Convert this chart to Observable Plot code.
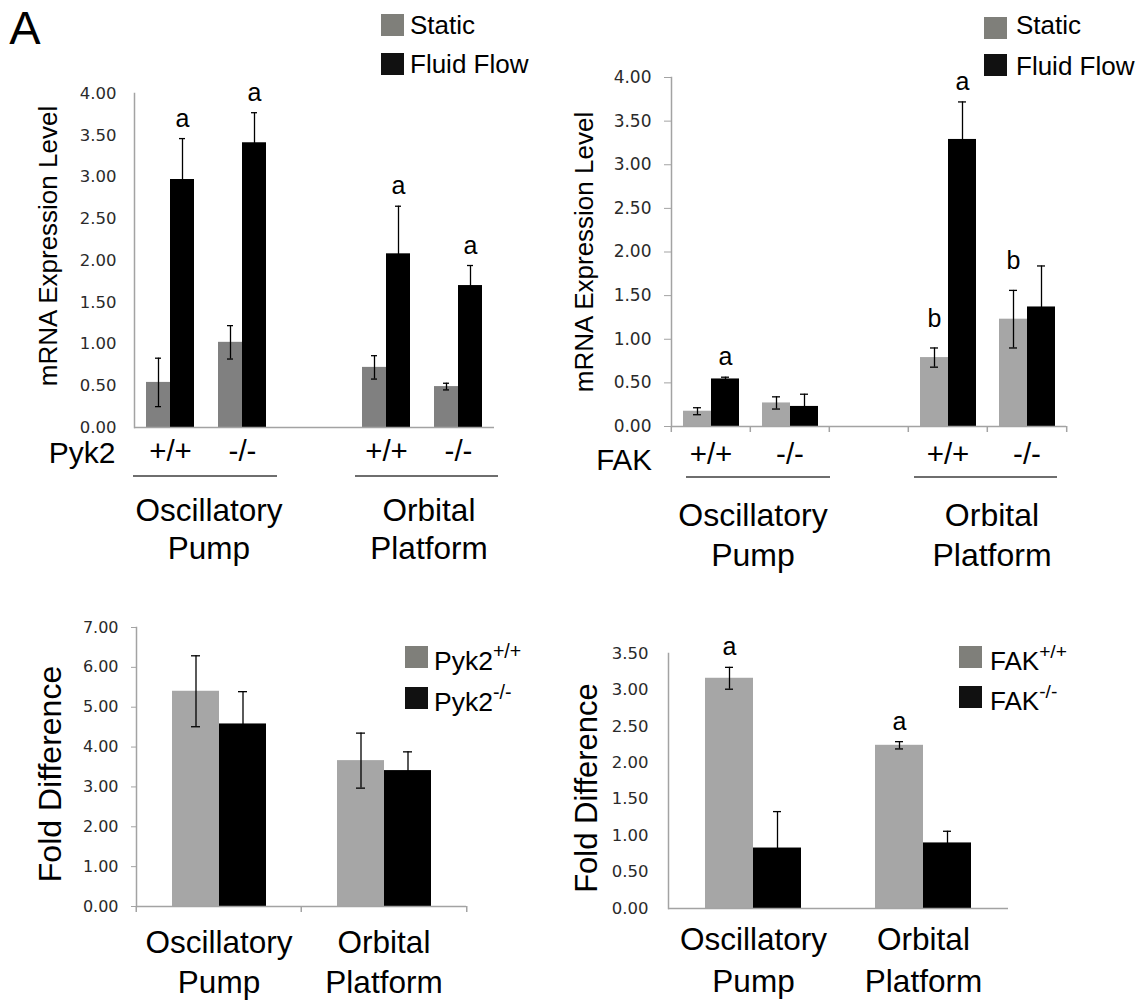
<!DOCTYPE html>
<html><head><meta charset="utf-8">
<script src="https://cdn.jsdelivr.net/npm/d3@7"></script>
<script src="https://cdn.jsdelivr.net/npm/@observablehq/plot@0.6"></script>
<style>
body{margin:0;background:#fff;}
#fig{position:relative;width:1140px;height:1001px;font-family:"Liberation Sans",Arial,sans-serif;color:#000;overflow:hidden;background:#fff;}
.plot{position:absolute;}
.ytitle{position:absolute;transform:translate(-50%,-50%) rotate(-90deg);white-space:nowrap;line-height:1;}
.center{position:absolute;transform:translate(-50%,-50%);white-space:nowrap;text-align:center;}
.left{position:absolute;transform:translate(0,-50%);white-space:nowrap;line-height:1;}
.sw{position:absolute;width:23px;height:22px;}
.bracket{position:absolute;height:2px;background:#6e6e6e;}
sup{font-size:0.74em;position:relative;top:-0.12em;}
</style></head><body><div id="fig"></div><script>
// ---------- data ----------
const panelLetter = "A";
const groupLabels = ["Oscillatory Pump", "Orbital Platform"];
const conditions = ["Static", "Fluid Flow"];
const genotypeLabels = ["+/+", "-/-"];
const mrnaTitle = "mRNA Expression Level";
const foldTitle = "Fold Difference";

// Pyk2 mRNA (order: Osc +/+, Osc -/-, Orb +/+, Orb -/-)
const pyk2Static   = [0.54, 1.02, 0.72, 0.49];
const pyk2StaticSE = [0.29, 0.20, 0.14, 0.04];
const pyk2Flow     = [2.97, 3.41, 2.08, 1.70];
const pyk2FlowSE   = [0.49, 0.36, 0.57, 0.24];
const pyk2StaticSig = ["", "", "", ""];
const pyk2FlowSig   = ["a", "a", "a", "a"];

// FAK mRNA
const fakStatic   = [0.175, 0.27, 0.79, 1.23];
const fakStaticSE = [0.04, 0.07, 0.11, 0.33];
const fakFlow     = [0.545, 0.23, 3.29, 1.37];
const fakFlowSE   = [0.02, 0.14, 0.43, 0.47];
const fakStaticSig = ["", "", "b", "b"];
const fakFlowSig   = ["a", "", "a", ""];

// Fold difference (order: Osc, Orb)
const foldGroupLabels = ["Oscillatory\nPump", "Orbital\nPlatform"];
const pyk2FoldWT   = [5.40, 3.66];
const pyk2FoldWTSE = [0.89, 0.69];
const pyk2FoldKO   = [4.58, 3.41];
const pyk2FoldKOSE = [0.81, 0.47];
const pyk2FoldWTSig = ["", ""];
const fakFoldWT   = [3.16, 2.24];
const fakFoldWTSE = [0.15, 0.05];
const fakFoldKO   = [0.83, 0.90];
const fakFoldKOSE = [0.50, 0.16];
const fakFoldWTSig = ["a", "a"];

const mrnaTicks = [0, 0.5, 1, 1.5, 2, 2.5, 3, 3.5, 4];
const pyk2FoldTicks = [0, 1, 2, 3, 4, 5, 6, 7];
const fakFoldTicks = [0, 0.5, 1, 1.5, 2, 2.5, 3, 3.5];

// ---------- build tables ----------
const spacer = " ";
const slotDomain = [
  groupLabels[0] + " " + genotypeLabels[0], groupLabels[0] + " " + genotypeLabels[1],
  spacer,
  groupLabels[1] + " " + genotypeLabels[0], groupLabels[1] + " " + genotypeLabels[1]
];
const slotLabel = k => k === spacer ? "" : k.split(" ").pop();

function mrnaRows(st, stSE, fl, flSE, stSig, flSig) {
  const rows = [];
  for (let i = 0; i < 4; i++) {
    const slot = groupLabels[Math.floor(i / 2)] + " " + genotypeLabels[i % 2];
    rows.push({slot, cond: conditions[0], value: st[i], se: stSE[i], sig: stSig[i]});
    rows.push({slot, cond: conditions[1], value: fl[i], se: flSE[i], sig: flSig[i]});
  }
  return rows;
}
function foldRows(wt, wtSE, ko, koSE, wtSig) {
  const rows = [];
  for (let i = 0; i < 2; i++) {
    rows.push({slot: foldGroupLabels[i], cond: genotypeLabels[0], value: wt[i], se: wtSE[i], sig: wtSig[i]});
    rows.push({slot: foldGroupLabels[i], cond: genotypeLabels[1], value: ko[i], se: koSE[i], sig: ""});
  }
  return rows;
}

const tickFont = "DejaVu Sans, Verdana, sans-serif";
const mainFont = "Liberation Sans, Arial, sans-serif";
const axisGray = "#a3a3a3";

function barPlot(rows, c) {
  const slots = c.fxDomain.map(s => ({slot: s}));
  const marks = [
    Plot.barY(rows, {fx: "slot", x: "cond", y: "value", fill: "cond"}),
    Plot.ruleX(rows, {fx: "slot", x: "cond", y1: d => d.value - d.se, y2: d => d.value + d.se, stroke: "#000", strokeWidth: 1.3}),
    Plot.tickY(rows, {fx: "slot", x: "cond", y: d => d.value + d.se, insetLeft: c.cap, insetRight: c.cap, stroke: "#000", strokeWidth: 1.3}),
    Plot.tickY(rows, {fx: "slot", x: "cond", y: d => d.value - d.se, insetLeft: c.cap, insetRight: c.cap, stroke: "#000", strokeWidth: 1.3}),
    // baseline drawn in every slot (also keeps the spacer slot non-empty)
    Plot.ruleY(slots, {fx: "slot", y: () => 0, stroke: axisGray, strokeWidth: 1.5}),
    Plot.frame({anchor: "left", facetAnchor: "left", stroke: axisGray, strokeWidth: 1.5}),
    Plot.axisY({ticks: c.ticks, tickFormat: d3.format(".2f"), tickSize: c.ytick, tickPadding: c.ygap - c.ytick,
      fontSize: c.tickFont, fontFamily: tickFont, fill: "#2a2a2a", stroke: axisGray, label: null}),
    Plot.axisFx({anchor: "bottom", tickSize: 0, tickPadding: c.fxPad, fontSize: c.fxFont, fontFamily: mainFont, fill: "#000",
      lineHeight: c.fxLine || 1.25, tickFormat: c.fxFormat, label: null}),
    Plot.text(rows.filter(d => d.sig === "a"), {fx: "slot", x: "cond", y: d => d.value + d.se, text: "sig",
      dy: -20, fontSize: 25, fontFamily: mainFont, lineAnchor: "middle"}),
    Plot.text(rows.filter(d => d.sig === "b"), {fx: "slot", x: "cond", y: d => d.value + d.se, text: "sig",
      dy: -29, fontSize: 25, fontFamily: mainFont, lineAnchor: "middle"})
  ];
  if (c.xTicks) {
    const half = c.slotW / 2;
    const dom = c.fxDomain;
    marks.push(Plot.axisFx({anchor: "bottom", tickSize: 6, tickFormat: () => "", dx: -half, stroke: axisGray, strokeWidth: 1.5, label: null}));
    marks.push(Plot.axisFx({anchor: "bottom", ticks: [dom[dom.length - 1]], tickSize: 6, tickFormat: () => "", dx: half, stroke: axisGray, strokeWidth: 1.5, label: null}));
  }
  return Plot.plot({
    width: c.width, height: c.height,
    marginLeft: c.ml, marginRight: c.mr, marginTop: c.mt, marginBottom: c.mb,
    style: {background: "transparent", overflow: "visible"},
    fx: {domain: c.fxDomain, padding: 0, label: null},
    x: {domain: c.xDomain, paddingInner: 0, paddingOuter: c.po, axis: null},
    y: {domain: c.yDomain, label: null},
    color: {domain: c.xDomain, range: [c.lightColor, "#000000"]},
    marks
  });
}

const fig = document.getElementById("fig");
function place(svg, left, top) {
  const d = document.createElement("div");
  d.className = "plot"; d.style.left = left + "px"; d.style.top = top + "px";
  d.appendChild(svg); fig.appendChild(d);
}
function html(cls, text, x, y, style) {
  const d = document.createElement("div");
  d.className = cls; d.style.left = x + "px"; d.style.top = y + "px";
  d.innerHTML = text;
  Object.assign(d.style, style || {});
  fig.appendChild(d);
  return d;
}
function swatch(x, y, color) {
  const d = document.createElement("div");
  d.className = "sw"; d.style.left = x + "px"; d.style.top = y + "px"; d.style.background = color;
  fig.appendChild(d);
}
function bracket(x1, x2, y) {
  const d = document.createElement("div");
  d.className = "bracket"; d.style.left = x1 + "px"; d.style.top = y + "px"; d.style.width = (x2 - x1) + "px";
  fig.appendChild(d);
}

// ---------- panel 1: Pyk2 mRNA ----------
place(barPlot(mrnaRows(pyk2Static, pyk2StaticSE, pyk2Flow, pyk2FlowSE, pyk2StaticSig, pyk2FlowSig), {
  width: 560, height: 470, ml: 132, mr: 65, mt: 93, mb: 43, po: 0.45, cap: 9,
  fxDomain: slotDomain, xDomain: conditions, yDomain: [0, 4], ticks: mrnaTicks, ytick: 0, ygap: 18, tickFont: 16.5,
  fxPad: 7, fxFont: 29.5, fxFormat: slotLabel, lightColor: "#808080"
}), 0, 0);

// ---------- panel 2: FAK mRNA ----------
place(barPlot(mrnaRows(fakStatic, fakStaticSE, fakFlow, fakFlowSE, fakStaticSig, fakFlowSig), {
  width: 580, height: 470, ml: 110, mr: 73, mt: 77, mb: 44, po: 0.40, cap: 10,
  fxDomain: slotDomain, xDomain: conditions, yDomain: [0, 4], ticks: mrnaTicks, ytick: 7, ygap: 20, tickFont: 17,
  fxPad: 11, fxFont: 29.5, fxFormat: slotLabel, lightColor: "#a6a6a6", xTicks: true, slotW: (580 - 110 - 73) / 5
}), 560, 0);

// ---------- panel 3: Pyk2 fold ----------
place(barPlot(foldRows(pyk2FoldWT, pyk2FoldWTSE, pyk2FoldKO, pyk2FoldKOSE, pyk2FoldWTSig), {
  width: 560, height: 401, ml: 135, mr: 94, mt: 27, mb: 95, po: 0.74, cap: 19,
  fxDomain: foldGroupLabels, xDomain: genotypeLabels, yDomain: [0, 7], ticks: pyk2FoldTicks, ytick: 5, ygap: 18, tickFont: 16,
  fxPad: 18, fxFont: 31.5, fxLine: 1.27, fxFormat: d => d, lightColor: "#a6a6a6", xTicks: true, slotW: (560 - 135 - 94) / 2
}), 0, 600);

// ---------- panel 4: FAK fold ----------
place(barPlot(foldRows(fakFoldWT, fakFoldWTSE, fakFoldKO, fakFoldKOSE, fakFoldWTSig), {
  width: 580, height: 401, ml: 107, mr: 132, mt: 53, mb: 93, po: 0.74, cap: 20,
  fxDomain: foldGroupLabels, xDomain: genotypeLabels, yDomain: [0, 3.5], ticks: fakFoldTicks, ytick: 0, ygap: 20, tickFont: 16.5,
  fxPad: 12, fxFont: 31.5, fxLine: 1.33, fxFormat: d => d, lightColor: "#a6a6a6"
}), 560, 600);

// ---------- text overlays ----------
html("center", panelLetter, 25, 27, {fontSize: "47px", lineHeight: "1"});

// panel 1
swatch(381, 14, "#7f7f7a"); swatch(381, 53, "#111");
html("left", conditions[0], 410, 25, {fontSize: "26px"});
html("left", conditions[1], 410, 64, {fontSize: "26px"});
html("ytitle", mrnaTitle, 48, 246, {fontSize: "26px"});
html("center", "Pyk2", 82, 453, {fontSize: "30px", lineHeight: "1"});
bracket(133, 277, 475); bracket(355, 498, 475);
html("center", groupLabels[0].replace(" ", "<br>"), 209, 529, {fontSize: "31.5px", lineHeight: "38px"});
html("center", groupLabels[1].replace(" ", "<br>"), 429, 529, {fontSize: "31.5px", lineHeight: "38px"});

// panel 2
swatch(984, 17, "#7f7f7a"); swatch(984, 54, "#111");
html("left", conditions[0], 1016, 25, {fontSize: "26px"});
html("left", conditions[1], 1016, 66, {fontSize: "26px"});
html("ytitle", mrnaTitle, 584, 252, {fontSize: "26px"});
html("center", "FAK", 624, 460, {fontSize: "29.5px", lineHeight: "1"});
bracket(686, 830, 476); bracket(914, 1057, 476);
html("center", groupLabels[0].replace(" ", "<br>"), 753, 535, {fontSize: "32px", lineHeight: "40px"});
html("center", groupLabels[1].replace(" ", "<br>"), 992, 535, {fontSize: "32px", lineHeight: "40px"});

// panel 3
html("ytitle", foldTitle, 50, 774, {fontSize: "32px"});
swatch(405, 646, "#7f7f7a"); swatch(405, 687, "#111");
html("left", "Pyk2<sup>" + genotypeLabels[0] + "</sup>", 434, 659, {fontSize: "26.5px"});
html("left", "Pyk2<sup>" + genotypeLabels[1] + "</sup>", 434, 700, {fontSize: "26.5px"});

// panel 4
html("ytitle", foldTitle, 586, 788, {fontSize: "31px"});
swatch(959, 646, "#7f7f7a"); swatch(959, 686, "#111");
html("left", "FAK<sup>" + genotypeLabels[0] + "</sup>", 990, 659, {fontSize: "26px"});
html("left", "FAK<sup>" + genotypeLabels[1] + "</sup>", 990, 699, {fontSize: "26px"});
</script></body></html>
